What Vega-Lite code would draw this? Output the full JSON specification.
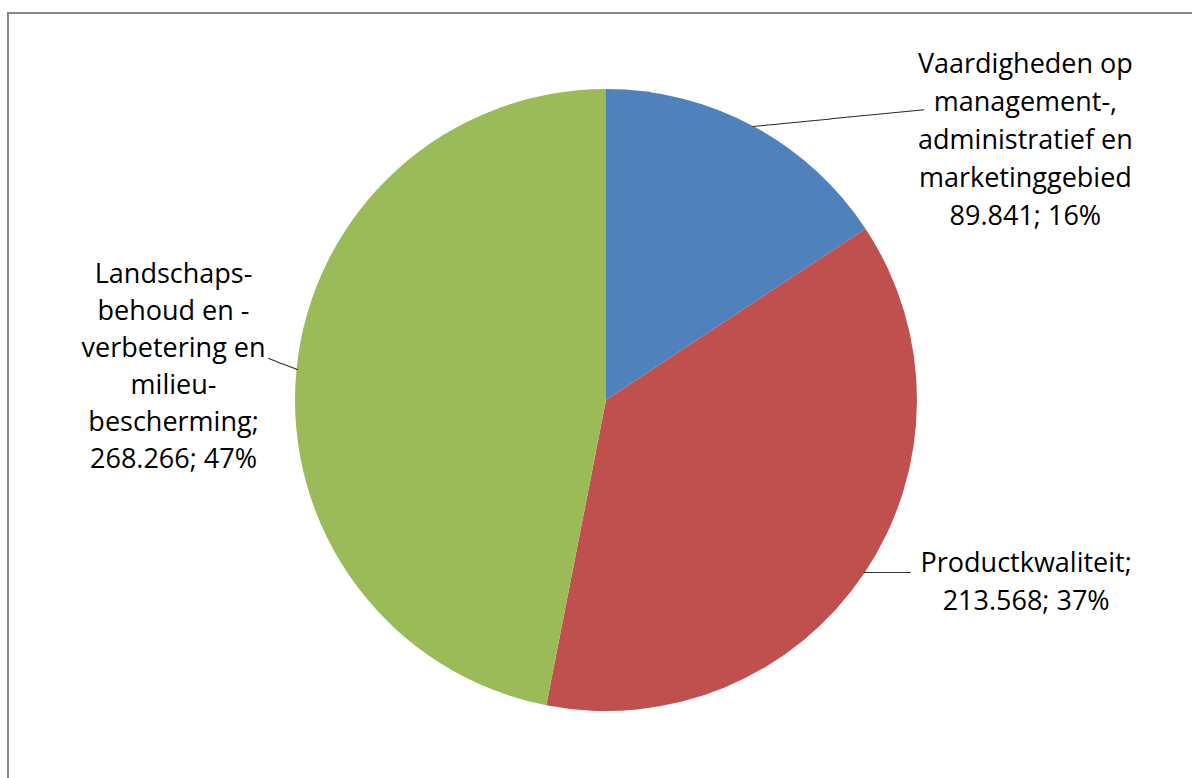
{
  "$schema": "https://vega.github.io/schema/vega-lite/v6.json",
  "width": 1196,
  "height": 774,
  "autosize": {"type": "none"},
  "padding": {"left": 8, "top": 13, "right": -12, "bottom": -9},
  "background": "white",
  "view": {"stroke": "#868686", "strokeWidth": 2},
  "config": {"view": {"stroke": "#868686", "strokeWidth": 2}, "style": {"view": {"stroke": "#868686", "strokeWidth": 2}}},
  "data": {
    "values": [
      {"nr": 1, "category": "Vaardigheden op management-, administratief en marketinggebied", "value": 89841, "label": "Vaardigheden op\nmanagement-,\nadministratief en\nmarketinggebied\n89.841; 16%"},
      {"nr": 2, "category": "Productkwaliteit", "value": 213568, "label": "Productkwaliteit;\n213.568; 37%"},
      {"nr": 3, "category": "Landschapsbehoud en -verbetering en milieubescherming", "value": 268266, "label": "Landschaps-\nbehoud en -\nverbetering en\nmilieu-\nbescherming;\n268.266; 47%"}
    ]
  },
  "encoding": {
    "theta": {"field": "value", "type": "quantitative", "stack": true},
    "order": {"field": "nr", "type": "quantitative"}
  },
  "layer": [
    {
      "mark": {"type": "arc", "outerRadius": 311},
      "encoding": {
        "color": {
          "field": "category",
          "type": "nominal",
          "scale": {
            "domain": ["Vaardigheden op management-, administratief en marketinggebied", "Productkwaliteit", "Landschapsbehoud en -verbetering en milieubescherming"],
            "range": ["#4F81BD", "#C0504D", "#9BBB59"]
          },
          "legend": null
        }
      }
    },
    {
      "mark": {"type": "text", "radius": 330, "dx": 263, "dy": -44, "font": "Open Sans", "fontSize": 27, "lineHeight": 38, "lineBreak": "\n", "align": "center", "baseline": "middle", "color": "#000000"},
      "encoding": {"text": {"condition": {"test": "datum.nr === 1", "field": "label", "type": "nominal"}, "value": ""}}
    },
    {
      "mark": {"type": "text", "radius": 330, "dx": 146, "dy": -20, "font": "Open Sans", "fontSize": 27, "lineHeight": 38, "lineBreak": "\n", "align": "center", "baseline": "middle", "color": "#000000"},
      "encoding": {"text": {"condition": {"test": "datum.nr === 2", "field": "label", "type": "nominal"}, "value": ""}}
    },
    {
      "mark": {"type": "text", "radius": 330, "dx": -104, "dy": -93, "font": "Open Sans", "fontSize": 27, "lineHeight": 37, "lineBreak": "\n", "align": "center", "baseline": "middle", "color": "#000000"},
      "encoding": {"text": {"condition": {"test": "datum.nr === 3", "field": "label", "type": "nominal"}, "value": ""}}
    },
    {
      "mark": {"type": "text", "radius": 310, "angle": -5.6, "font": "DejaVu Sans Mono", "fontSize": 13, "align": "left", "baseline": "middle", "color": "#333333"},
      "encoding": {"text": {"condition": {"test": "datum.nr === 1", "value": "──────────────────────"}, "value": ""}}
    },
    {
      "mark": {"type": "text", "radius": 310, "angle": 0, "font": "DejaVu Sans Mono", "fontSize": 13, "align": "left", "baseline": "middle", "color": "#333333"},
      "encoding": {"text": {"condition": {"test": "datum.nr === 2", "value": "──────"}, "value": ""}}
    },
    {
      "mark": {"type": "text", "radius": 310, "angle": 21, "font": "DejaVu Sans Mono", "fontSize": 13, "align": "right", "baseline": "middle", "color": "#333333"},
      "encoding": {"text": {"condition": {"test": "datum.nr === 3", "value": "────"}, "value": ""}}
    }
  ]
}
